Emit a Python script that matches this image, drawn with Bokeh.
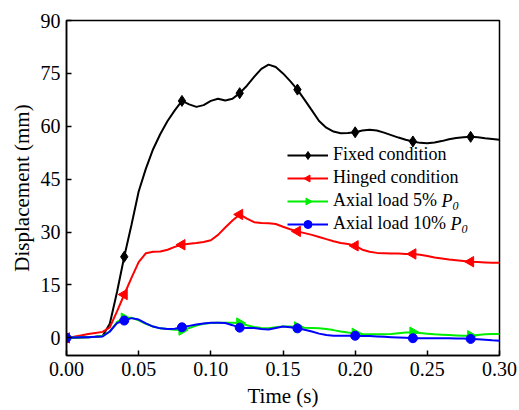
from bokeh.plotting import figure
from bokeh.models import (ColumnDataSource, Legend, LegendItem, Label,
                          FixedTicker, Range1d, CustomJSTickFormatter)
from bokeh.embed import file_html
from bokeh.resources import INLINE

# Time history of mid-span displacement, sampled every 0.005 s
time_s = [
    0.000, 0.005, 0.010, 0.015, 0.020, 0.025, 0.030, 0.035, 0.040, 0.045,
    0.050, 0.055, 0.060, 0.065, 0.070, 0.075, 0.080, 0.085, 0.090, 0.095,
    0.100, 0.105, 0.110, 0.115, 0.120, 0.125, 0.130, 0.135, 0.140, 0.145,
    0.150, 0.155, 0.160, 0.165, 0.170, 0.175, 0.180, 0.185, 0.190, 0.195,
    0.200, 0.205, 0.210, 0.215, 0.220, 0.225, 0.230, 0.235, 0.240, 0.245,
    0.250, 0.255, 0.260, 0.265, 0.270, 0.275, 0.280, 0.285, 0.290, 0.295,
    0.300,
]

fixed = [
    0.0, 0.0, 0.1, 0.2, 0.3, 0.5, 4.0, 13.0, 23.0, 32.0,
    41.5, 48.0, 53.5, 57.8, 61.5, 64.5, 67.2, 66.2, 65.5, 66.0,
    67.2, 67.8, 67.3, 67.8, 69.4, 71.5, 74.0, 76.3, 77.5, 76.8,
    75.0, 72.8, 70.4, 67.5, 64.5, 61.5, 59.6, 58.5, 58.0, 58.1,
    58.3, 58.8, 59.0, 58.8, 58.2, 57.5, 56.8, 56.2, 55.7, 55.3,
    55.2, 55.4, 55.8, 56.3, 56.7, 56.9, 57.0, 56.9, 56.6, 56.4,
    56.2,
]

hinged = [
    0.0, 0.3, 0.7, 1.1, 1.4, 1.7, 3.0, 7.5, 12.3, 17.0,
    21.5, 24.0, 24.4, 24.5, 25.0, 25.8, 26.4, 26.7, 26.9, 27.2,
    27.7, 29.2, 31.3, 33.3, 35.0, 33.8, 32.8, 32.6, 32.5, 32.3,
    31.5, 30.8, 30.2, 29.7, 29.2, 28.6, 28.0, 27.4, 26.9, 26.6,
    26.1, 25.0, 24.4, 24.1, 24.0, 23.9, 23.9, 23.8, 23.8, 23.6,
    23.2, 22.8, 22.5, 22.2, 22.0, 21.8, 21.6, 21.5, 21.4, 21.3,
    21.3,
]

axial_5 = [
    0.0, 0.1, 0.2, 0.2, 0.3, 0.5, 1.8, 4.5, 5.6, 5.7,
    5.0, 4.0, 3.2, 2.7, 2.5, 2.3, 2.2, 2.8, 3.5, 4.0,
    4.2, 4.3, 4.3, 4.3, 4.2, 3.6, 3.1, 2.8, 2.7, 3.0,
    3.2, 3.2, 3.1, 2.9, 2.8, 2.7, 2.5, 2.2, 1.8, 1.5,
    1.3, 1.1, 1.0, 1.0, 1.0, 1.1, 1.3, 1.5, 1.6, 1.4,
    1.2, 1.0, 0.9, 0.8, 0.7, 0.6, 0.6, 0.8, 1.0, 1.1,
    1.1,
]

axial_10 = [
    0.0, 0.1, 0.2, 0.2, 0.3, 0.4, 1.8, 4.2, 4.9, 5.6,
    5.2, 4.1, 3.2, 2.7, 2.5, 2.6, 3.0, 3.4, 3.8, 4.1,
    4.3, 4.3, 4.2, 3.6, 2.9, 2.8, 2.8, 2.5, 2.4, 2.8,
    3.2, 3.0, 2.7, 2.3, 1.8, 1.2, 0.8, 0.6, 0.6, 0.6,
    0.6, 0.5, 0.5, 0.4, 0.3, 0.2, 0.1, 0.0, -0.1, -0.1,
    -0.1, -0.1, -0.1, -0.1, -0.2, -0.2, -0.3, -0.4, -0.5, -0.7,
    -0.8,
]

x_ticks = [0.00, 0.05, 0.10, 0.15, 0.20, 0.25, 0.30]
y_ticks = [0, 15, 30, 45, 60, 75, 90]

# markers sit on every 8th sample (every 0.04 s)
MARK_STEP = 8

FONT = "Liberation Serif"

p = figure(width=519, height=410, output_backend="svg", toolbar_location=None,
           x_range=Range1d(0.0, 0.30), y_range=Range1d(-5, 90),
           min_border_left=66, min_border_right=20,
           min_border_top=20, min_border_bottom=55)

p.background_fill_color = "white"
p.border_fill_color = "white"
p.outline_line_color = "black"
p.outline_line_width = 1.5
p.xgrid.visible = False
p.ygrid.visible = False

for ax in (p.xaxis[0], p.yaxis[0]):
    ax.axis_line_width = 1.5
    ax.axis_line_color = "black"
    ax.major_tick_in = 5
    ax.major_tick_out = 0
    ax.major_tick_line_width = 1.5
    ax.minor_tick_line_color = None
    ax.major_label_text_font = FONT
    ax.major_label_text_font_size = "20px"
    ax.major_label_text_color = "black"
    ax.axis_label_text_font = FONT
    ax.axis_label_text_font_size = "21px"
    ax.axis_label_text_font_style = "normal"
    ax.axis_label_text_color = "black"

p.xaxis.ticker = FixedTicker(ticks=x_ticks)
p.yaxis.ticker = FixedTicker(ticks=y_ticks)
p.xaxis.formatter = CustomJSTickFormatter(code="return tick.toFixed(2);")
p.xaxis.axis_label = "Time (s)"
p.yaxis.axis_label = "Displacement (mm)"
p.xaxis.major_label_standoff = 6
p.yaxis.major_label_standoff = 6
p.xaxis.axis_label_standoff = 5
p.yaxis.axis_label_standoff = 4

# (label, values, colour, marker, size, marker rotation in radians)
series = [
    ("Fixed condition", fixed, "black", "diamond", 11, None),
    ("Hinged condition", hinged, "red", "ngon", 6, 1.5708),
    ("Axial load 5%", axial_5, "#00ee00", "ngon", 6, -1.5708),
    ("Axial load 10%", axial_10, "blue", "circle", 9, None),
]

items = []
for label, vals, color, marker, size, angle in series:
    src = ColumnDataSource(dict(t=time_s, d=vals))
    msrc = ColumnDataSource(dict(t=time_s[::MARK_STEP], d=vals[::MARK_STEP]))
    ln = p.line("t", "d", source=src, line_color=color, line_width=2)
    if marker == "ngon":
        # three-sided polygon, rotated so the apex points left or right
        mk = p.ngon("t", "d", source=msrc, radius=size, radius_units="screen",
                    n=3, angle=angle, fill_color=color, line_color=color)
    else:
        mk = p.scatter("t", "d", source=msrc, marker=marker, size=size,
                       fill_color=color, line_color=color)
    items.append(LegendItem(label=label, renderers=[ln, mk]))

legend = Legend(items=items, location=(221, 121), padding=0, margin=0,
                spacing=2, glyph_width=41, glyph_height=20, label_height=20,
                label_standoff=5, label_text_font=FONT,
                label_text_font_size="18px", label_text_color="black",
                border_line_color=None, background_fill_alpha=0.0)
p.add_layout(legend)

# italic P with subscript 0 after the axial-load legend labels
# (screen units are measured from the frame's bottom-left corner)
for lx, ly in ((375, 155), (384, 132)):
    p.add_layout(Label(x=lx, y=ly, x_units="screen", y_units="screen",
                       text="P", text_font=FONT, text_font_size="18px",
                       text_font_style="italic", text_color="black",
                       text_baseline="middle", text_align="left"))
    p.add_layout(Label(x=lx + 11, y=ly - 5, x_units="screen",
                       y_units="screen", text="0", text_font=FONT,
                       text_font_size="12px", text_font_style="italic",
                       text_color="black", text_baseline="middle",
                       text_align="left"))

open("out.html", "w").write(file_html(p, INLINE))
